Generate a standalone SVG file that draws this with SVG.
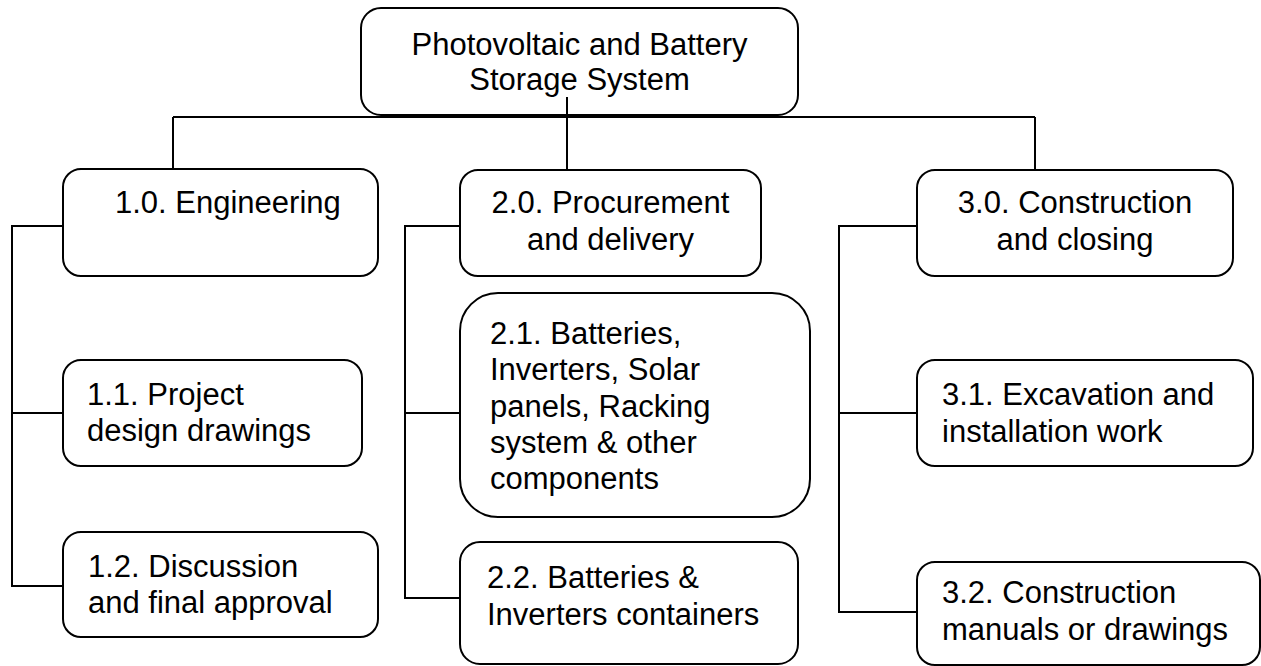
<svg xmlns="http://www.w3.org/2000/svg" width="1261" height="666" viewBox="0 0 1261 666">
  <style>
    .box { fill: #ffffff; stroke: #000000; stroke-width: 2; }
    .wire { fill: none; stroke: #000000; stroke-width: 2; }
    .lbl { font-family: "Liberation Sans", Arial, sans-serif; font-size: 31px; fill: #000000; }
    .mid { text-anchor: middle; }
  </style>
  <rect width="1261" height="666" fill="#ffffff"/>

  <!-- tree connectors -->
  <g id="connectors">
    <path class="wire" d="M173,117 H1035"/>
    <path class="wire" d="M567,97 V170"/>
    <path class="wire" d="M173,117 V169"/>
    <path class="wire" d="M1035,117 V170"/>
    <!-- branch 1 -->
    <path class="wire" d="M63,226 H12 V586 H63"/>
    <path class="wire" d="M12,413 H63"/>
    <!-- branch 2 -->
    <path class="wire" d="M460,226 H405 V598 H460"/>
    <path class="wire" d="M405,413 H460"/>
    <!-- branch 3 -->
    <path class="wire" d="M917,226 H839 V612 H917"/>
    <path class="wire" d="M839,413 H917"/>
  </g>

  <g id="root">
    <rect class="box" x="361" y="8" width="437" height="107" rx="20"/>
    <text class="lbl mid" x="579.5" y="55">Photovoltaic and Battery</text>
    <text class="lbl mid" x="579.5" y="90">Storage System</text>
  </g>
  <!-- vertical drop drawn over the root box -->
  <path class="wire" d="M567,97 V117"/>

  <g id="n1-0">
    <rect class="box" x="63" y="169" width="315" height="107" rx="18"/>
    <text class="lbl" x="115" y="213">1.0. Engineering</text>
  </g>
  <g id="n1-1">
    <rect class="box" x="63" y="360" width="299" height="106" rx="18"/>
    <text class="lbl" x="87" y="405">1.1. Project</text>
    <text class="lbl" x="87" y="441">design drawings</text>
  </g>
  <g id="n1-2">
    <rect class="box" x="63" y="532" width="315" height="105" rx="18"/>
    <text class="lbl" x="88" y="577">1.2. Discussion</text>
    <text class="lbl" x="88" y="613">and final approval</text>
  </g>

  <g id="n2-0">
    <rect class="box" x="460" y="170" width="301" height="106" rx="18"/>
    <text class="lbl mid" x="610.5" y="213">2.0. Procurement</text>
    <text class="lbl mid" x="610.5" y="250">and delivery</text>
  </g>
  <g id="n2-1">
    <rect class="box" x="460" y="293" width="350" height="224" rx="38"/>
    <text class="lbl" x="490" y="344">2.1. Batteries,</text>
    <text class="lbl" x="490" y="380">Inverters, Solar</text>
    <text class="lbl" x="490" y="417">panels, Racking</text>
    <text class="lbl" x="490" y="453">system &amp; other</text>
    <text class="lbl" x="490" y="489">components</text>
  </g>
  <g id="n2-2">
    <rect class="box" x="460" y="542" width="338" height="122" rx="20"/>
    <text class="lbl" x="487" y="588">2.2. Batteries &amp;</text>
    <text class="lbl" x="487" y="625">Inverters containers</text>
  </g>

  <g id="n3-0">
    <rect class="box" x="917" y="170" width="316" height="106" rx="18"/>
    <text class="lbl mid" x="1075" y="213">3.0. Construction</text>
    <text class="lbl mid" x="1075" y="250">and closing</text>
  </g>
  <g id="n3-1">
    <rect class="box" x="917" y="360" width="336" height="106" rx="18"/>
    <text class="lbl" x="942" y="405">3.1. Excavation and</text>
    <text class="lbl" x="942" y="442">installation work</text>
  </g>
  <g id="n3-2">
    <rect class="box" x="917" y="562" width="343" height="103" rx="18"/>
    <text class="lbl" x="942" y="603">3.2. Construction</text>
    <text class="lbl" x="942" y="640">manuals or drawings</text>
  </g>
</svg>
